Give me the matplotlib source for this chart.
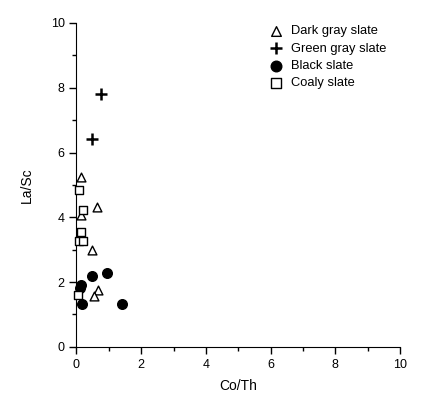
import matplotlib
matplotlib.use("Agg")
import matplotlib.pyplot as plt
from matplotlib.ticker import MultipleLocator

plt.rcParams['font.family'] = ['Liberation Sans', 'DejaVu Sans']

dark_x = [0.13, 0.64, 0.13, 0.47, 0.65, 0.55]
dark_y = [5.24, 4.31, 4.07, 2.99, 1.75, 1.58]
green_x = [0.75, 0.49]
green_y = [7.82, 6.41]
black_x = [0.47, 0.93, 0.14, 0.10, 0.17, 1.40]
black_y = [2.20, 2.29, 1.92, 1.83, 1.31, 1.32]
coaly_x = [0.09, 0.19, 0.13, 0.08, 0.21, 0.06]
coaly_y = [4.83, 4.21, 3.53, 3.27, 3.27, 1.60]

fig = plt.figure(figsize=(4.21, 3.99), dpi=100)
ax = fig.add_axes([0.1817, 0.1308, 0.7683, 0.8116])

kw = dict(zorder=3, clip_on=False)
ax.scatter(dark_x, dark_y, marker='^', s=40, facecolors='white', edgecolors='black', linewidths=1.0, label='Dark gray slate', **kw)
ax.scatter(green_x, green_y, marker='+', s=70, color='black', linewidths=1.8, label='Green gray slate', **kw)
ax.scatter(black_x, black_y, marker='o', s=48, color='black', label='Black slate', **kw)
ax.scatter(coaly_x, coaly_y, marker='s', s=40, facecolors='white', edgecolors='black', linewidths=1.0, label='Coaly slate', **kw)

ax.set_xlim(0, 10)
ax.set_ylim(0, 10)
ax.xaxis.set_major_locator(MultipleLocator(2))
ax.xaxis.set_minor_locator(MultipleLocator(1))
ax.yaxis.set_major_locator(MultipleLocator(2))
ax.yaxis.set_minor_locator(MultipleLocator(1))
for s in ['top', 'right']:
    ax.spines[s].set_visible(False)
ax.tick_params(which='major', direction='out', length=5, width=1, labelsize=9, colors='black')
ax.tick_params(which='minor', direction='out', length=3, width=1)
ax.set_xlabel('Co/Th', fontsize=10, labelpad=6)
ax.set_ylabel('La/Sc', fontsize=10, labelpad=12)

leg = ax.legend(loc='upper left', frameon=False, fontsize=9.3, handletextpad=0.6,
                labelspacing=0.42, borderpad=0, borderaxespad=0,
                handlelength=1.2, markerscale=1.1,
                bbox_to_anchor=(268 / 421, 1 - 25 / 399), bbox_transform=fig.transFigure)

fig.savefig('out.png', dpi=100)
